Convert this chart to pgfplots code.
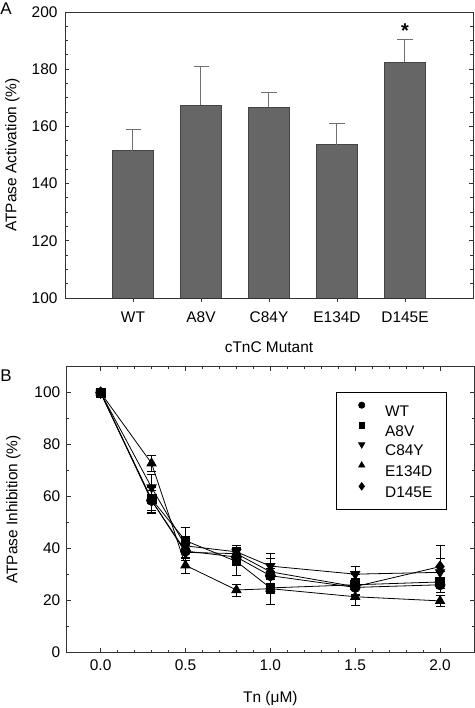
\documentclass[border=0pt]{standalone}
\usepackage{fontspec}
\setmainfont{Liberation Sans}
\usepackage{pgfplots}
\pgfplotsset{compat=1.18}
\definecolor{barfill}{HTML}{666666}
\definecolor{bardraw}{HTML}{454545}
\definecolor{errgray}{HTML}{707070}
\newcommand{\fs}{\fontsize{15.5}{18}\selectfont}
\begin{document}
\begin{tikzpicture}
\path[use as bounding box] (0bp,0bp) rectangle (475bp,708bp);
% Panel A
\begin{axis}[
  at={(65bp,410bp)}, anchor=south west,
  width=408bp, height=286bp, scale only axis,
  /pgf/number format/assume math mode=true,
  ymin=100, ymax=200, xmin=0, xmax=6,
  ytick={100,120,...,200}, minor y tick num=3,
  xtick={1,2,3,4,5}, xticklabels={WT,A8V,C84Y,E134D,D145E},
  xtick pos=lower, ytick pos=both,
  tick align=inside, xtick align=outside,
  major tick length=4bp, minor tick length=2.5bp,
  axis line style={draw=black!80, line width=0.8bp},
  tick style={draw=black!80, line width=0.8bp},
  ticklabel style={font=\fs},
  yticklabel style={xshift=-4bp},
  xticklabel style={yshift=-6bp},
  xlabel={cTnC Mutant},
  ylabel={ATPase Activation (\%)},
  every axis x label/.style={at={(axis description cs:0.5,-0.171)}, anchor=center, font=\fs},
  every axis y label/.style={at={(axis description cs:-0.129,0.5)}, anchor=center, rotate=90, font=\fs},
  ybar, bar width=40.7bp,
]
\addplot[ybar, bar shift=0pt, fill=barfill, draw=bardraw, line width=0.8bp,
  error bars/.cd, y dir=plus, y explicit,
  error bar style={draw=errgray, line width=1bp},
  error mark options={rotate=90, mark size=7.5bp, draw=errgray, line width=1bp}]
coordinates {
 (1,151.5) +- (0,7.5)
 (2,167.4) +- (0,13.6)
 (3,166.7) +- (0,5.3)
 (4,153.6) +- (0,7.4)
 (5,182.5) +- (0,7.9)
};
\node[font=\fontsize{20}{20}\selectfont\bfseries] at (axis cs:5,193.5) {*};
\end{axis}
% Panel B
\begin{axis}[
  at={(66.7bp,55.7bp)}, anchor=south west,
  width=407.3bp, height=285.6bp, scale only axis,
  /pgf/number format/assume math mode=true,
  xmin=-0.2, xmax=2.2, ymin=0, ymax=110,
  xtick={0,0.5,...,2}, minor x tick num=4,
  ytick={0,20,...,100}, minor y tick num=1,
  xtick pos=both, ytick pos=both, tick align=inside,
  major tick length=4bp, minor tick length=2.5bp,
  axis line style={draw=black!80, line width=0.8bp},
  tick style={draw=black!80, line width=0.8bp},
  ticklabel style={font=\fs},
  xticklabel style={yshift=-4bp, /pgf/number format/.cd, fixed, fixed zerofill, precision=1},
  yticklabel style={xshift=-3bp},
  xlabel={Tn (μM)},
  ylabel={ATPase Inhibition (\%)},
  every axis x label/.style={at={(axis description cs:0.5,-0.1635)}, anchor=center, font=\fs},
  every axis y label/.style={at={(axis description cs:-0.131,0.5)}, anchor=center, rotate=90, font=\fs},
  legend cell align=left,
  legend style={at={(axis description cs:0.661,0.9125)}, anchor=north west,
    font=\fs, draw=black, line width=0.8bp, inner xsep=12bp, inner ysep=10bp,
    nodes={text height=11bp, text depth=0bp, inner sep=2bp},
    row sep=4.3bp, column sep=0bp,
    /tikz/every odd column/.append style={column sep=10.6bp}},
  legend image code/.code={\path (0bp,0bp) (23.4bp,0bp); \draw[#1] plot coordinates {(13bp,5.5bp)};},
  errstyle/.style={black, line width=0.8bp, forget plot,
    /pgfplots/error bars/y dir=both, /pgfplots/error bars/y explicit,
    /pgfplots/error bars/error bar style={line width=0.8bp, black},
    /pgfplots/error bars/error mark options={rotate=90, mark size=4.5bp, line width=0.8bp, black}},
]
\addlegendimage{only marks, mark=*, mark size=3.1, fill=black}
\addlegendentry{WT}
\addlegendimage{only marks, mark=square*, mark size=2.8, fill=black}
\addlegendentry{A8V}
\addlegendimage{only marks, mark=triangle*, mark options={rotate=180}, mark size=3.5, fill=black}
\addlegendentry{C84Y}
\addlegendimage{only marks, mark=triangle*, mark size=3.5, fill=black}
\addlegendentry{E134D}
\addlegendimage{only marks, mark=diamond*, mark size=3.7, fill=black}
\addlegendentry{D145E}
% WT
\addplot[errstyle, mark=*, mark size=5, mark options={fill=black}] coordinates {
 (0,100) +- (0,0) (0.3,58.5) +- (0,4) (0.5,39) +- (0,3) (0.8,36.7) +- (0,3)
 (1.0,29.5) +- (0,3) (1.5,25) +- (0,3) (2.0,26) +- (0,3)};
% A8V
\addplot[errstyle, mark=square*, mark size=4.4, mark options={fill=black}] coordinates {
 (0,100) +- (0,0) (0.3,59) +- (0,5) (0.5,43) +- (0,5) (0.8,35) +- (0,5.5)
 (1.0,24.8) +- (0,6.5) (1.5,26) +- (0,4) (2.0,27.1) +- (0,4)};
% C84Y
\addplot[errstyle, mark=triangle*, mark size=5.3, mark options={fill=black, rotate=180}] coordinates {
 (0,100) +- (0,0) (0.3,63.5) +- (0,5) (0.5,41) +- (0,3) (0.8,38.7) +- (0,2.5)
 (1.0,33.2) +- (0,5) (1.5,30.1) +- (0,3) (2.0,30.8) +- (0,5.5)};
% E134D
\addplot[errstyle, mark=triangle*, mark size=5.3, mark options={fill=black}] coordinates {
 (0,100) +- (0,0) (0.3,72.8) +- (0,3) (0.5,33.5) +- (0,3) (0.8,24) +- (0,2.3)
 (1.0,24.5) +- (0,2) (1.5,21.4) +- (0,3.5) (2.0,19.8) +- (0,2)};
% D145E
\addplot[errstyle, mark=diamond*, mark size=5.6, mark options={fill=black}] coordinates {
 (0,100) +- (0,0) (0.3,58.5) +- (0,5) (0.5,38.5) +- (0,3) (0.8,38) +- (0,2)
 (1.0,31) +- (0,5) (1.5,25.3) +- (0,3) (2.0,33) +- (0,8.2)};
\end{axis}
\node[font=\fontsize{17}{17}\selectfont] at (6bp,699bp) {A};
\node[font=\fontsize{17}{17}\selectfont] at (6bp,332bp) {B};
\end{tikzpicture}
\end{document}
